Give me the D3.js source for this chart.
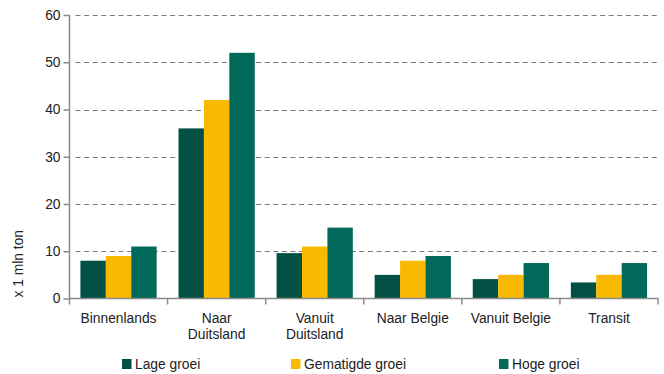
<!DOCTYPE html>
<html><head><meta charset="utf-8">
<script src="https://cdn.jsdelivr.net/npm/d3@7"></script>
<style>body{margin:0;background:#fff}svg{display:block}text{font-family:"Liberation Sans",Arial,sans-serif}</style>
</head><body><svg id="c" width="664" height="374"></svg>
<script>
const categories = ["Binnenlands", "Naar\nDuitsland", "Vanuit\nDuitsland", "Naar Belgie", "Vanuit Belgie", "Transit"];
const seriesNames = ["Lage groei", "Gematigde groei", "Hoge groei"];
const lageGroei = [8, 36, 9.6, 5, 4.1, 3.4];
const gematigdeGroei = [9, 42, 11, 8, 5, 5];
const hogeGroei = [11, 52, 15, 9, 7.5, 7.5];
const yTicks = [0, 10, 20, 30, 40, 50, 60];
const yTitle = "x 1 mln ton";
const colors = ["#024f43", "#f9b900", "#00695a"];

(function () {
const series = [lageGroei, gematigdeGroei, hogeGroei];
const svg = d3.select("#c");
const pLeft = 69.5, pRight = 658, pTop = 15, pBottom = 298.5;
const fs = 13.8;

const x = d3.scaleBand().domain(categories).range([pLeft, pRight]).paddingInner(0).paddingOuter(0);
const x1 = d3.scaleBand().domain(d3.range(series.length)).range([0, x.bandwidth()]).paddingOuter(0.43).paddingInner(0);
const y = d3.scaleLinear().domain([0, 60]).range([pBottom, pTop]);

// gridlines
svg.append("g").selectAll("line").data(yTicks.filter(d => d > 0)).join("line")
  .attr("x1", pLeft + 6).attr("x2", pRight)
  .attr("y1", d => Math.round(y(d)) + 0.5).attr("y2", d => Math.round(y(d)) + 0.5)
  .attr("stroke", "#7a7a7a").attr("stroke-width", 1.2).attr("stroke-dasharray", "5,3.6");

// bars
const g = svg.append("g");
categories.forEach((c, i) => {
  series.forEach((s, j) => {
    g.append("rect")
      .attr("x", x(c) + x1(j)).attr("width", x1.bandwidth())
      .attr("y", y(s[i])).attr("height", y(0) - y(s[i]))
      .attr("fill", colors[j]);
  });
});

// y axis
const yAxis = d3.axisLeft(y).tickValues(yTicks).tickSize(6).tickPadding(3);
const ya = svg.append("g").attr("transform", `translate(${pLeft},0)`).call(yAxis);
ya.select(".domain").attr("stroke", "#8a8a8a").attr("stroke-width", 1.5).attr("d", `M0,${y(60)}V${pBottom}`);
ya.selectAll(".tick line").attr("stroke", "#8a8a8a").attr("stroke-width", 1.5);
ya.selectAll(".tick text").attr("font-size", fs).attr("fill", "#222").attr("font-family", "Liberation Sans, Arial, sans-serif");

// x axis
const xa = svg.append("g").attr("transform", `translate(0,${pBottom})`);
xa.append("line").attr("x1", pLeft).attr("x2", pRight + 0.5).attr("y1", 0).attr("y2", 0)
  .attr("stroke", "#8a8a8a").attr("stroke-width", 1.5);
const bounds = categories.map(c => x(c)).concat([x(categories[categories.length - 1]) + x.bandwidth()]);
xa.selectAll("line.t").data(bounds).join("line").attr("class", "t")
  .attr("x1", d => d).attr("x2", d => d).attr("y1", 0).attr("y2", 6)
  .attr("stroke", "#8a8a8a").attr("stroke-width", 1.5);
categories.forEach(c => {
  const lines = c.split("\n");
  const t = xa.append("text").attr("x", x(c) + x.bandwidth() / 2).attr("y", 24.5)
    .attr("text-anchor", "middle").attr("font-size", fs).attr("fill", "#222");
  lines.forEach((l, k) => t.append("tspan").attr("x", x(c) + x.bandwidth() / 2).attr("dy", k === 0 ? 0 : 16.3).text(l));
});

// y title
svg.append("text").attr("transform", `translate(22.5,${pBottom - 1}) rotate(-90)`)
  .attr("font-size", fs).attr("fill", "#222").attr("text-anchor", "start").text(yTitle);

// legend
const legX = [122, 291, 499];
seriesNames.forEach((n, j) => {
  svg.append("rect").attr("x", legX[j]).attr("y", 359).attr("width", 9.5).attr("height", 10).attr("fill", colors[j]);
  svg.append("text").attr("x", legX[j] + 13).attr("y", 368.8).attr("font-size", fs).attr("fill", "#222").text(n);
});
})();
</script></body></html>
